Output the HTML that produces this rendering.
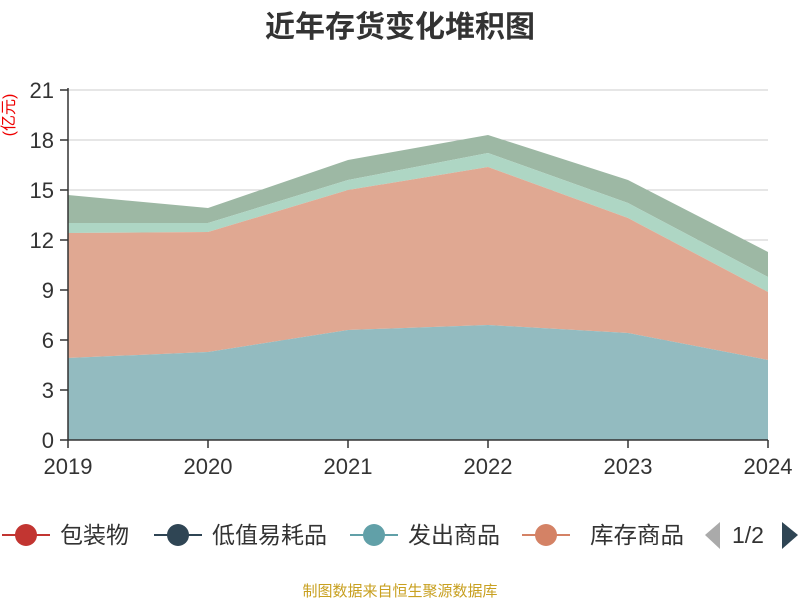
<!DOCTYPE html>
<html><head><meta charset="utf-8"><style>
body{margin:0;background:#fff;width:800px;height:600px;overflow:hidden;font-family:"Liberation Sans","Noto Sans CJK SC",sans-serif}
</style></head><body>
<svg width="800" height="600" xmlns="http://www.w3.org/2000/svg" font-family="Liberation Sans, Noto Sans CJK SC, sans-serif">
<text x="400" y="37" text-anchor="middle" font-size="30" font-weight="bold" fill="#333">近年存货变化堆积图</text>
<g stroke="#ccc" stroke-width="1">
<line x1="68" y1="90" x2="768" y2="90"/><line x1="68" y1="140" x2="768" y2="140"/><line x1="68" y1="190" x2="768" y2="190"/><line x1="68" y1="240" x2="768" y2="240"/><line x1="68" y1="290" x2="768" y2="290"/><line x1="68" y1="340" x2="768" y2="340"/><line x1="68" y1="390" x2="768" y2="390"/>
</g>
<path d="M68,195 L208,208 L348,160 L488,135 L628,180 L768,252 L768,277 L628,203 L488,153 L348,180 L208,223 L68,223Z" fill="#9db8a4"/>
<path d="M68,223 L208,223 L348,180 L488,153 L628,203 L768,277 L768,292 L628,218 L488,167 L348,190 L208,232 L68,233Z" fill="#aed6c4"/>
<path d="M68,233 L208,232 L348,190 L488,167 L628,218 L768,292 L768,360 L628,333 L488,325 L348,330 L208,352 L68,358Z" fill="#e0a892"/>
<path d="M68,358 L208,352 L348,330 L488,325 L628,333 L768,360 L768,440 L68,440Z" fill="#93bbc0"/>
<g stroke="#333" stroke-width="1.5">
<line x1="68" y1="88" x2="68" y2="440"/><line x1="68" y1="440" x2="768" y2="440"/>
<line x1="60" y1="90" x2="68" y2="90"/><line x1="60" y1="140" x2="68" y2="140"/><line x1="60" y1="190" x2="68" y2="190"/><line x1="60" y1="240" x2="68" y2="240"/><line x1="60" y1="290" x2="68" y2="290"/><line x1="60" y1="340" x2="68" y2="340"/><line x1="60" y1="390" x2="68" y2="390"/><line x1="60" y1="440" x2="68" y2="440"/>
<line x1="68" y1="440" x2="68" y2="448"/><line x1="208" y1="440" x2="208" y2="448"/><line x1="348" y1="440" x2="348" y2="448"/><line x1="488" y1="440" x2="488" y2="448"/><line x1="628" y1="440" x2="628" y2="448"/><line x1="768" y1="440" x2="768" y2="448"/>
</g>
<g font-size="22" fill="#333" text-anchor="end">
<text x="54" y="98">21</text><text x="54" y="148">18</text><text x="54" y="198">15</text><text x="54" y="248">12</text><text x="54" y="298">9</text><text x="54" y="348">6</text><text x="54" y="398">3</text><text x="54" y="448">0</text>
</g>
<g font-size="22" fill="#333" text-anchor="middle">
<text x="68" y="474">2019</text><text x="208" y="474">2020</text><text x="348" y="474">2021</text><text x="488" y="474">2022</text><text x="628" y="474">2023</text><text x="768" y="474">2024</text>
</g>
<text transform="translate(14,115) rotate(-90)" text-anchor="middle" font-size="16" fill="#e00">(亿元)</text>
<g font-size="23" fill="#333">
<line x1="2" y1="535" x2="50" y2="535" stroke="#c23531" stroke-width="2"/><circle cx="26" cy="535" r="11" fill="#c23531"/>
<text x="60" y="543">包装物</text>
<line x1="154" y1="535" x2="202" y2="535" stroke="#2f4554" stroke-width="2"/><circle cx="178" cy="535" r="11" fill="#2f4554"/>
<text x="212" y="543">低值易耗品</text>
<line x1="350" y1="535" x2="398" y2="535" stroke="#61a0a8" stroke-width="2"/><circle cx="374" cy="535" r="11" fill="#61a0a8"/>
<text x="408" y="543">发出商品</text>
<line x1="522" y1="535" x2="570" y2="535" stroke="#d48265" stroke-width="2"/><circle cx="546" cy="535" r="11" fill="#d48265"/>
<text x="590" y="543" textLength="94" lengthAdjust="spacingAndGlyphs">库存商品</text>
<path d="M720,522 L720,549 L705,535Z" fill="#aaa"/>
<text x="732" y="543">1/2</text>
<path d="M782,522 L782,549 L798,535Z" fill="#2f4554"/>
</g>
<text x="400" y="596" text-anchor="middle" font-size="15" fill="#c8a020">制图数据来自恒生聚源数据库</text>
</svg>
</body></html>
